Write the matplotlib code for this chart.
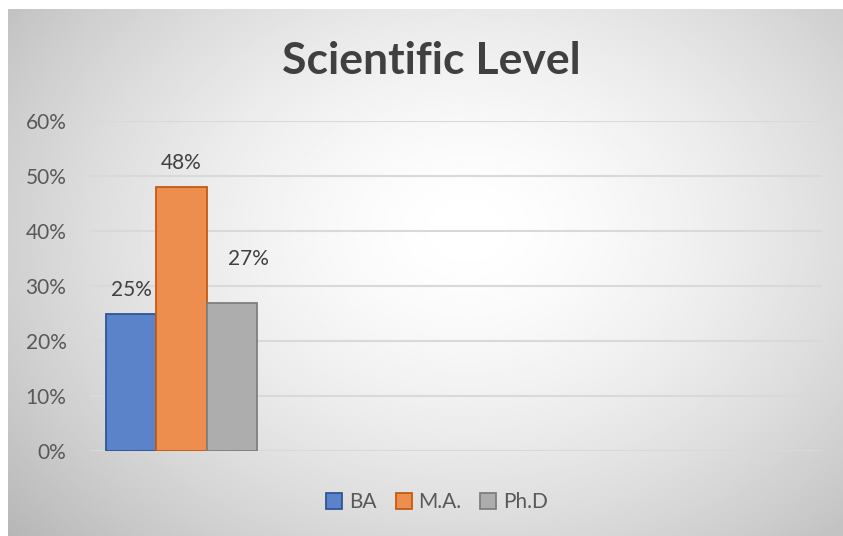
import matplotlib
matplotlib.use("Agg")
import matplotlib.pyplot as plt
import numpy as np
from matplotlib.lines import Line2D
from matplotlib.ticker import PercentFormatter

# ── Data ──────────────────────────────────────────────────────────────────────
series = ["BA", "M.A.", "Ph.D"]
values = [0.25, 0.48, 0.27]
labels = ["25%", "48%", "27%"]
n_slots = 4  # chart has four category slots, only the first is filled

fills = ["#5a83c9", "#ee8e4e", "#adadad"]
edges = ["#2f5597", "#c55a11", "#7f7f7f"]

W, H = 843, 536
fig = plt.figure(figsize=(W / 100, H / 100), dpi=100)
plt.rcParams["font.family"] = ["Lato", "DejaVu Sans"]

# ── Radial gradient background ────────────────────────────────────────────────
bg = fig.add_axes([8 / W, 0, (W - 8) / W, (H - 9) / H], zorder=0)
yy, xx = np.mgrid[0:1:300j, 0:1:500j]
r = np.sqrt(((xx - 0.55) / 0.62) ** 2 + ((yy - 0.42) / 0.75) ** 2)
shade = 1.0 - 0.22 * np.clip(r, 0, 1.3) ** 1.6
bg.imshow(shade, cmap="gray", vmin=0, vmax=1, aspect="auto",
          extent=[0, 1, 1, 0], interpolation="bilinear")
bg.axis("off")

# ── Bars ──────────────────────────────────────────────────────────────────────
ax = fig.add_axes([90 / W, (H - 451) / H, (822 - 90) / W, (451 - 121) / H], zorder=1)
ax.patch.set_alpha(0)

bw = 0.275
offsets = [(i - 1) * bw for i in range(len(series))]
label_pad = [(0, 10), (0, 10), (12, 24)]  # Excel nudged the Ph.D label
for i, name in enumerate(series):
    ax.bar(offsets[i], values[i], width=bw, color=fills[i],
           edgecolor=edges[i], linewidth=1.3, zorder=3)
    ax.annotate(labels[i], (offsets[i], values[i]), xytext=label_pad[i],
                textcoords="offset points", ha="center", va="bottom",
                fontsize=15, color="#404040")

ax.set_xlim(-0.5, n_slots - 0.5)
ax.set_ylim(0, 0.6)
ax.set_yticks(np.arange(0, 0.61, 0.1))
ax.yaxis.set_major_formatter(PercentFormatter(1.0, decimals=0))
ax.set_xticks([])
ax.tick_params(axis="y", length=0, pad=17, labelsize=15, labelcolor="#595959")
ax.grid(axis="y", color="#d9d9d9", linewidth=1.5, zorder=0)
for s in ax.spines.values():
    s.set_visible(False)

fig.text(431 / W, 1 - 61 / H, "Scientific Level", ha="center", va="center",
         fontsize=32, fontweight="bold", color="#404040")

handles = [Line2D([], [], marker="s", linestyle="none", markersize=11,
                  markerfacecolor=fills[i], markeredgecolor=edges[i],
                  markeredgewidth=1.3) for i in range(len(series))]
fig.legend(handles, series, loc="center", bbox_to_anchor=(437 / W, 1 - 502 / H),
           ncol=3, frameon=False, fontsize=15, handlelength=0.8,
           handletextpad=0.3, columnspacing=0.9, labelcolor="#595959")

fig.savefig("out.png", dpi=100)
